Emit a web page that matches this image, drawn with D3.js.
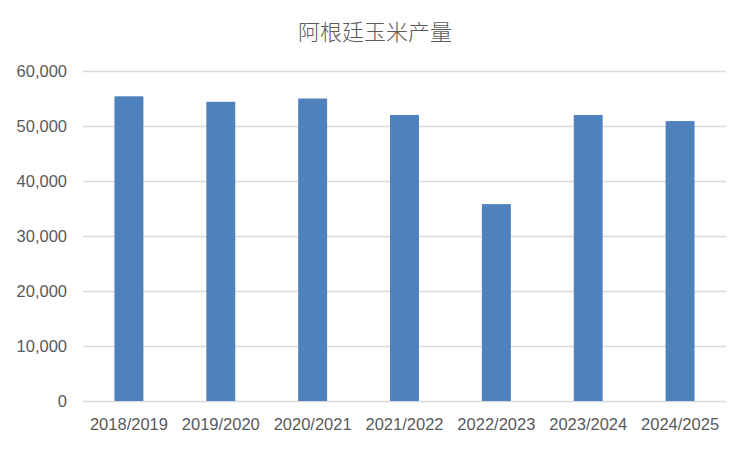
<!DOCTYPE html>
<meta charset="utf-8">
<style>
body { margin: 0; background: #fff; }
text { font-family: 'Liberation Sans', 'Noto Sans', sans-serif; fill: #595959; }
.title { font-family: 'Noto Sans CJK SC', sans-serif; font-size: 22px; font-weight: 300; }
.grid line { stroke: #d9d9d9; stroke-width: 1.3; }
</style>
<body>
<div id="chart"></div>
<script src="https://cdn.jsdelivr.net/npm/d3@7"></script>
<script>
const years = ["2018/2019", "2019/2020", "2020/2021", "2021/2022", "2022/2023", "2023/2024", "2024/2025"];
const production = [55400, 54400, 55000, 52000, 35800, 52000, 50900];
const yTicks = [0, 10000, 20000, 30000, 40000, 50000, 60000];

const W = 750, H = 450;
const margin = {top: 71, right: 24, bottom: 49, left: 83};
const width = W - margin.left - margin.right,
      height = H - margin.top - margin.bottom;

const svg = d3.select("#chart").append("svg")
    .attr("width", W)
    .attr("height", H);

svg.append("text")
    .attr("class", "title")
    .attr("x", W / 2)
    .attr("y", 40)
    .attr("text-anchor", "middle")
    .text("阿根廷玉米产量");

const g = svg.append("g")
    .attr("transform", "translate(" + margin.left + "," + margin.top + ")");

const x = d3.scaleBand()
    .domain(years)
    .range([0, width])
    .paddingInner(0.685)
    .paddingOuter(0.3425);

const y = d3.scaleLinear()
    .domain([0, 60000])
    .range([height, 0]);

// gridlines
g.append("g")
    .attr("class", "grid")
    .selectAll("line")
    .data(yTicks)
    .enter().append("line")
    .attr("x1", 0)
    .attr("x2", width)
    .attr("y1", d => y(d) + 0.5)
    .attr("y2", d => y(d) + 0.5);

// y labels
const yAxis = g.append("g")
    .call(d3.axisLeft(y).tickValues(yTicks).tickFormat(d3.format(",")).tickSize(0).tickPadding(16));
yAxis.select(".domain").remove();
yAxis.selectAll("text").style("font-size", "16.5px").style("fill", "#595959");

g.selectAll(".bar")
    .data(production)
    .enter().append("rect")
    .attr("class", "bar")
    .attr("x", (d, i) => x(years[i]))
    .attr("width", x.bandwidth())
    .attr("y", d => y(d))
    .attr("height", d => height - y(d))
    .style("fill", "#4f81bd");

// x labels
const xAxis = g.append("g")
    .attr("transform", "translate(0," + height + ")")
    .call(d3.axisBottom(x).tickSize(0).tickPadding(17));
xAxis.select(".domain").remove();
xAxis.selectAll("text").style("font-size", "16.5px").style("fill", "#595959");
</script>
</body>
